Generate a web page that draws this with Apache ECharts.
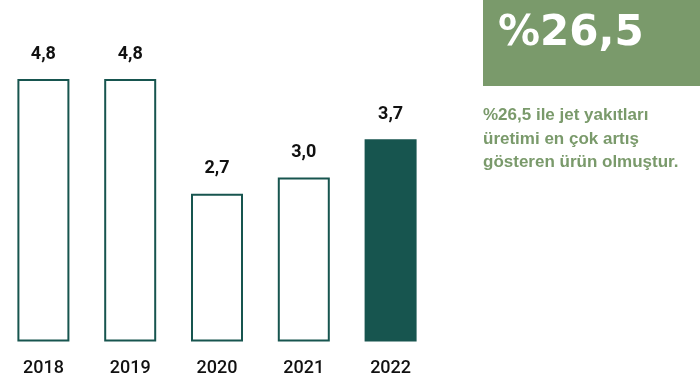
<!DOCTYPE html>
<html><head><meta charset="utf-8">
<script src="https://cdn.jsdelivr.net/npm/echarts@6/dist/echarts.min.js"></script>
<style>html,body{margin:0;padding:0;background:#fff}#c{width:700px;height:385px}</style>
</head><body><div id="c"></div>
<script>
const categories = ['2018', '2019', '2020', '2021', '2022'];
const values = [4.8, 4.8, 2.7, 3.0, 3.7];
const highlightIndex = 4;
const headline = '%26,5';
const noteLines = ['%26,5 ile jet yakıtları', 'üretimi en çok artış', 'gösteren ürün olmuştur.'];

const teal = '#17554f';
const green = '#7a9a6b';

const chart = echarts.init(document.getElementById('c'), null, {renderer: 'canvas'});
chart.setOption({
  animation: false,
  grid: {left: -3, width: 437, top: 13.4, bottom: 43.5, containLabel: false},
  xAxis: {
    type: 'category', data: categories,
    axisLine: {show: false}, axisTick: {show: false},
    axisLabel: {color: '#111', fontFamily: 'Roboto', fontWeight: 500, fontSize: 18, margin: 18}
  },
  yAxis: {type: 'value', min: 0, max: 6, show: false, splitLine: {show: false}},
  series: [{
    type: 'bar', barWidth: 52,
    data: values.map((v, i) => i === highlightIndex
      ? {value: v, itemStyle: {color: teal, borderWidth: 0}}
      : {value: v, itemStyle: {color: '#fff', borderColor: teal, borderWidth: 2}}),
    label: {
      show: true, position: 'top', distance: 16,
      formatter: p => p.value.toFixed(1).replace('.', ','),
      color: '#111', fontFamily: 'Roboto', fontWeight: 'bold', fontSize: 18
    }
  }],
  graphic: [
    {type: 'rect', left: 483, top: 0, shape: {width: 217, height: 86}, style: {fill: green}},
    {type: 'text', left: 498, top: 13, style: {text: headline, fill: '#fff', font: 'bold 42px "DejaVu Sans"'}},
    {type: 'text', left: 483, top: 104, style: {text: noteLines.join('\n'), fill: green, font: 'bold 17px "Liberation Sans"', lineHeight: 23.5}}
  ]
});
</script></body></html>
